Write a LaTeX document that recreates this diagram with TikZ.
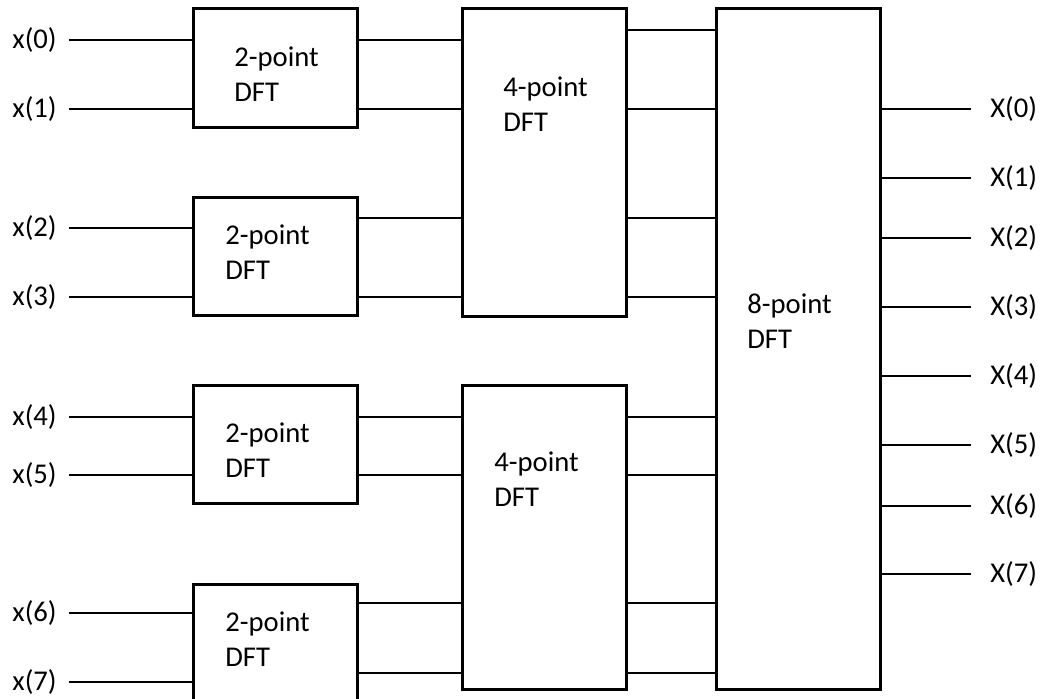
\documentclass[tikz,border=0pt]{standalone}
\usepackage{fontspec}
\setmainfont{Carlito}
\usetikzlibrary{positioning}

\tikzset{
  dftbox/.style={draw, rectangle, line width=1.7pt, inner sep=0pt, minimum width=3.28cm},
  wire/.style={line width=1.1pt},
  boxtext/.style={anchor=west, align=left, inner sep=0pt, font=\fontsize{16.3}{20}\selectfont},
  sig/.style={inner sep=0pt, font=\fontsize{16.3}{20}\selectfont},
}

\begin{document}
\begin{tikzpicture}[x=0.02cm, y=-0.02cm]
                \clip (0,0) rectangle (1044,699);

                % 2-point DFT blocks
                \node[dftbox, minimum width=3.3cm, minimum height=2.4cm] (two0) at (275.5,68) {};
                \node[dftbox, minimum width=3.3cm, minimum height=2.38cm] (two1) at (275.5,256.5) {};
                \node[dftbox, minimum width=3.3cm, minimum height=2.38cm] (two2) at (275.5,444.5) {};
                \node[dftbox, minimum width=3.3cm, minimum height=2.4cm] (two3) at (275.5,644) {};
                \node[boxtext] (t0) at (234,74.5) {2-point\\DFT};
                \node[boxtext] (t1) at (225,252.5) {2-point\\DFT};
                \node[boxtext] (t2) at (225,450.5) {2-point\\DFT};
                \node[boxtext] (t3) at (225,639.5) {2-point\\DFT};

                % 4-point DFT blocks
                \node[dftbox, minimum height=6.18cm] (four0) at (544.5,162.5) {};
                \node[dftbox, minimum height=6.1cm] (four1) at (544.5,537.5) {};
                \node[boxtext] (f0) at (503,104.5) {4-point\\DFT};
                \node[boxtext] (f1) at (494,479.5) {4-point\\DFT};

                % 8-point DFT block
                \node[dftbox, minimum height=13.64cm] (eight) at (798.5,349) {};
                \node[boxtext] (e0) at (747,321) {8-point\\DFT};

                % inputs x(n)
                \node[sig, anchor=east] (x0) at (57,40) {x(0)};
                \node[sig, anchor=east] (x1) at (57,109) {x(1)};
                \node[sig, anchor=east] (x2) at (57,228) {x(2)};
                \node[sig, anchor=east] (x3) at (57,297) {x(3)};
                \node[sig, anchor=east] (x4) at (57,417) {x(4)};
                \node[sig, anchor=east] (x5) at (57,475) {x(5)};
                \node[sig, anchor=east] (x6) at (57,613) {x(6)};
                \node[sig, anchor=east] (x7) at (57,682) {x(7)};
                \draw[wire] ([xshift=0.24cm]x0.east) -- (two0.west |- x0);
                \draw[wire] ([xshift=0.24cm]x1.east) -- (two0.west |- x1);
                \draw[wire] ([xshift=0.24cm]x2.east) -- (two1.west |- x2);
                \draw[wire] ([xshift=0.24cm]x3.east) -- (two1.west |- x3);
                \draw[wire] ([xshift=0.24cm]x4.east) -- (two2.west |- x4);
                \draw[wire] ([xshift=0.24cm]x5.east) -- (two2.west |- x5);
                \draw[wire] ([xshift=0.24cm]x6.east) -- (two3.west |- x6);
                \draw[wire] ([xshift=0.24cm]x7.east) -- (two3.west |- x7);

                % wire levels that no label sits on
                \coordinate (m0) at (0,30);
                \coordinate (m2) at (0,218);
                \coordinate (m6) at (0,603);
                \coordinate (m7) at (0,673);

                % 2-point -> 4-point
                \draw[wire] (two0.east |- x0) -- (four0.west |- x0);
                \draw[wire] (two0.east |- x1) -- (four0.west |- x1);
                \draw[wire] (two1.east |- m2) -- (four0.west |- m2);
                \draw[wire] (two1.east |- x3) -- (four0.west |- x3);
                \draw[wire] (two2.east |- x4) -- (four1.west |- x4);
                \draw[wire] (two2.east |- x5) -- (four1.west |- x5);
                \draw[wire] (two3.east |- m6) -- (four1.west |- m6);
                \draw[wire] (two3.east |- m7) -- (four1.west |- m7);

                % 4-point -> 8-point
                \draw[wire] (four0.east |- m0) -- (eight.west |- m0);
                \draw[wire] (four0.east |- x1) -- (eight.west |- x1);
                \draw[wire] (four0.east |- m2) -- (eight.west |- m2);
                \draw[wire] (four0.east |- x3) -- (eight.west |- x3);
                \draw[wire] (four1.east |- x4) -- (eight.west |- x4);
                \draw[wire] (four1.east |- x5) -- (eight.west |- x5);
                \draw[wire] (four1.east |- m6) -- (eight.west |- m6);
                \draw[wire] (four1.east |- m7) -- (eight.west |- m7);

                % outputs X(k)
                \node[sig, anchor=west] (X0) at (990,109) {X(0)};
                \node[sig, anchor=west] (X1) at (990,178) {X(1)};
                \node[sig, anchor=west] (X2) at (990,238) {X(2)};
                \node[sig, anchor=west] (X3) at (990,307) {X(3)};
                \node[sig, anchor=west] (X4) at (990,376) {X(4)};
                \node[sig, anchor=west] (X5) at (990,445) {X(5)};
                \node[sig, anchor=west] (X6) at (990,506) {X(6)};
                \node[sig, anchor=west] (X7) at (990,574) {X(7)};
                \draw[wire] (eight.east |- X0) -- ([xshift=-0.38cm]X0.west);
                \draw[wire] (eight.east |- X1) -- ([xshift=-0.38cm]X1.west);
                \draw[wire] (eight.east |- X2) -- ([xshift=-0.38cm]X2.west);
                \draw[wire] (eight.east |- X3) -- ([xshift=-0.38cm]X3.west);
                \draw[wire] (eight.east |- X4) -- ([xshift=-0.38cm]X4.west);
                \draw[wire] (eight.east |- X5) -- ([xshift=-0.38cm]X5.west);
                \draw[wire] (eight.east |- X6) -- ([xshift=-0.38cm]X6.west);
                \draw[wire] (eight.east |- X7) -- ([xshift=-0.38cm]X7.west);
            \end{tikzpicture}
\end{document}
